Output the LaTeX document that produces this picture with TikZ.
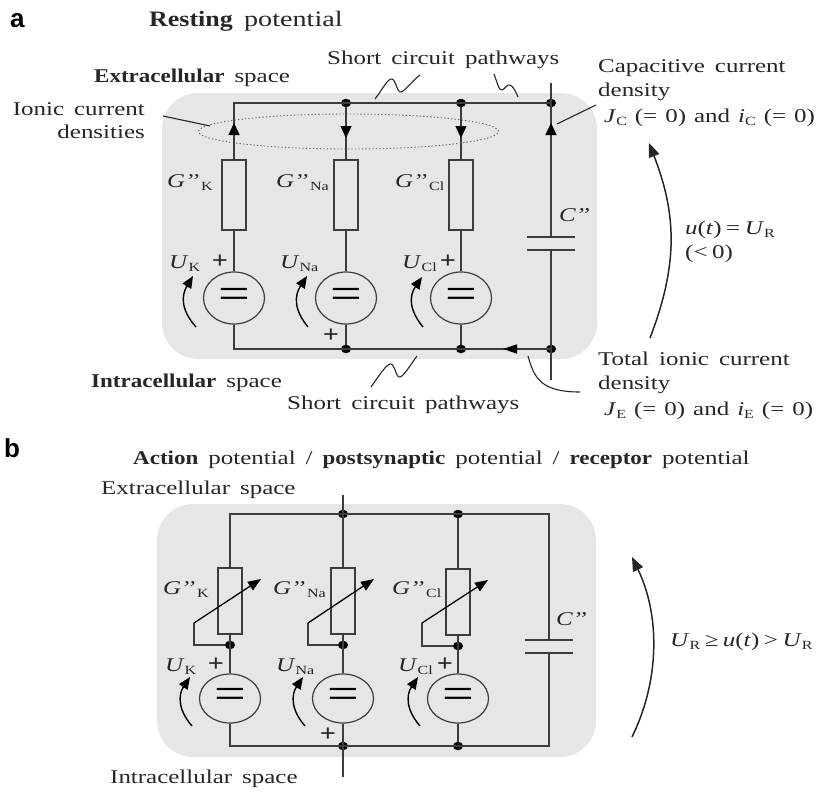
\documentclass[tikz,border=0pt]{standalone}
\usepackage{fontspec}
\setmainfont[FakeStretch=1.28,WordSpace=1.6,BoldFeatures={FakeStretch=1.18}]{Liberation Serif}
\newfontfamily\panelfont{Liberation Sans}
\usetikzlibrary{calc,positioning,arrows.meta,shapes.geometric}
\definecolor{color_panel}{HTML}{e6e6e6}
\definecolor{color_wire}{HTML}{3c3c3c}
\newcommand{\lsub}[1]{\raisebox{-3pt}{\fontsize{12.5}{12.5}\selectfont #1}}
\newcommand{\eqspace}{\spaceskip 4.5pt\relax}
\newcommand{\jspace}{\spaceskip 8pt\relax}
\tikzset{
	wire/.style={line width=1.4pt,color_wire},
	thin_line/.style={line width=1.1pt,black!85},
	resistor/.style={draw=color_wire,line width=1.3pt,fill=color_panel,rectangle,minimum width=24pt,minimum height=70pt,inner sep=0pt},
	resistor_b/.style={resistor,minimum height=66pt},
	source/.style={draw=color_wire,line width=1.2pt,fill=color_panel,ellipse,minimum width=61pt,minimum height=52pt,inner sep=0pt,font=\fontsize{44}{44}\selectfont},
	source_b/.style={source,minimum height=49pt},
	junction/.style={ellipse,fill=black,minimum width=10pt,minimum height=8.5pt,inner sep=0pt},
	label/.style={inner sep=0pt,font=\fontsize{19.5}{24.5}\selectfont,text=black!85},
	title_label/.style={inner sep=0pt,font=\fontsize{22}{24.5}\selectfont,text=black!85},
	eq_label/.style={inner sep=0pt,font=\fontsize{19.5}{24.5}\selectfont\eqspace,text=black!85},
	j_label/.style={inner sep=0pt,font=\fontsize{19.5}{24.5}\selectfont\jspace,text=black!85},
	panel_label/.style={anchor=base west,inner sep=0pt,font=\panelfont\bfseries\fontsize{26}{26}\selectfont},
	plus_sign/.style={inner sep=0pt,font=\bfseries\fontsize{24}{24}\selectfont,text=black!85},
	tip/.style={-{Triangle[length=12pt,width=11pt,black]}},
	h_tip/.style={-{Triangle[length=14pt,width=9pt,black]}},
	small_tip/.style={-{Triangle[length=12pt,width=10pt]},line width=1.4pt,black},
	big_tip/.style={-{Triangle[length=14pt,width=11pt]},line width=1.5pt,black!85},
	var_tip/.style={-{Triangle[length=13pt,width=10pt]},line width=1.3pt,black}
}
\begin{document}
\begin{tikzpicture}[x=1pt,y=-1pt]
	\useasboundingbox (0,0) rectangle (820,798);
	% Panels
	\fill[color_panel,rounded corners=36pt] (162,93) rectangle (597,359);
	\fill[color_panel,rounded corners=36pt] (157,504) rectangle (596,757);

	% Points, panel a
	\coordinate (TK) at (234,103);
	\coordinate (BK) at (234,349);
	\coordinate (TC) at (551,103);
	\coordinate (BC) at (551,349);
	\coordinate (TE) at (551,83);
	\coordinate (BE) at (551,380);
	\coordinate (CU) at (551,237);
	\coordinate (CL) at (551,250);

	\node[junction] (TNa) at (346,103) {};
	\node[junction] (TCl) at (461,103) {};
	\node[junction] (TR) at (551,103) {};
	\node[junction] (BNa) at (346,349) {};
	\node[junction] (BCl) at (461,349) {};
	\node[junction] (BR) at (551,349) {};

	\node[resistor] (RK) at (234,195) {};
	\node[resistor] (RNa) at (346,195) {};
	\node[resistor] (RCl) at (461,195) {};
	\node[source] (EK) at (234,298) {=};
	\node[source] (ENa) at (346,298) {=};
	\node[source] (ECl) at (461,298) {=};

	% Wires, panel a
	\draw[wire] (RK) -- (EK) (RNa) -- (ENa) (RCl) -- (ECl);
	\draw[wire] (RK) -- (TK) -- (TC);
	\draw[wire] (EK) -- (BK) -- (BC);
	\draw[wire] (TNa) -- (RNa) (TCl) -- (RCl);
	\draw[wire] (ENa) -- (BNa) (ECl) -- (BCl);
	\draw[wire] (TE) -- (CU) (CL) -- (BE);
	\draw[wire] ($(CU)+(-24,0)$) -- ($(CU)+(24,0)$);
	\draw[wire] ($(CL)+(-24,0)$) -- ($(CL)+(24,0)$);

	% Current arrows
	\draw[tip,wire] (234,150) -- (234,123);
	\draw[tip,wire] (346,115) -- (346,138);
	\draw[tip,wire] (461,115) -- (461,138);
	\draw[tip,wire] (551,150) -- (551,123);
	\draw[h_tip,wire] (530,349) -- (503,349);

	% Ionic current ellipse and leaders
	\draw[line width=0.9pt,black!60,dash pattern=on 1.3pt off 2.2pt] (348.5,131.5) ellipse (150pt and 17.5pt);
	\coordinate (LI) at (163,116);
	\coordinate (LIE) at (210,126);
	\draw[thin_line] (LI) -- (LIE);
	\coordinate (LC) at (596,105);
	\coordinate (LCE) at (557,124);
	\draw[thin_line] (LC) -- (LCE);
	\draw[thin_line] (528,356) .. controls (534,378) and (541,392) .. (580,392);

	% Squiggles
	\draw[thin_line] (375,99) .. controls (382,90) and (388,78) .. (392,79) .. controls (396,80) and (397,93) .. (401,92) .. controls (405,91) and (412,81) .. (420,75);
	\draw[thin_line] (494,74) .. controls (497,82) and (499,91) .. (502,90) .. controls (505,89) and (507,84) .. (510,85) .. controls (513,86) and (516,92) .. (518,97);
	\draw[thin_line] (371,387) .. controls (378,377) and (387,363) .. (391,364) .. controls (395,365) and (396,378) .. (400,377) .. controls (404,376) and (411,364) .. (417,356);

	% Large arrow, panel a
	\draw[big_tip] (650,338) .. controls (678,265) and (677,215) .. (649,143);

	% Voltage arrows, panel a
	\draw[small_tip] (196,327) .. controls (181,310) and (181,296) .. (193,276);
	\draw[small_tip] (308,327) .. controls (294,310) and (294,296) .. (307,276);
	\draw[small_tip] (423,327) .. controls (409,310) and (409,296) .. (422,277);

	% Labels, panel a
	\node[panel_label] (la) at (10,27) {a};
	\node[title_label,anchor=base west] (title_a) at (149,26.5) {\textbf{Resting} potential};
	\node[label,anchor=base west] (extra_a) at (94,82) {\textbf{Extracellular} space};
	\node[label,anchor=base west] (short_t) at (327,64) {Short circuit pathways};
	\node[label,anchor=base east] (ionic) at (145,115) {Ionic current};
	\node[label,anchor=base east] (ionic2) at (145,138) {densities};
	\node[label,anchor=base west] (cap1) at (598,72) {Capacitive current};
	\node[label,anchor=base west] (cap2) at (598,96) {density};
	\node[j_label,anchor=base west] (cap3) at (604,122) {\textit{J}\lsub{C} (= 0) and \textit{i}\lsub{C} (= 0)};
	\node[eq_label,anchor=base west] (volt1) at (685,234) {\textit{u}(\textit{t}) = \textit{U}\lsub{R}};
	\node[eq_label,anchor=base west] (volt2) at (685,258) {(< 0)};
	\node[label,anchor=base west] (total1) at (598,365) {Total ionic current};
	\node[label,anchor=base west] (total2) at (598,389) {density};
	\node[j_label,anchor=base west] (total3) at (604,415) {\textit{J}\lsub{E} (= 0) and \textit{i}\lsub{E} (= 0)};
	\node[label,anchor=base west] (intra_a) at (91,387) {\textbf{Intracellular} space};
	\node[label,anchor=base west] (short_b) at (287,409) {Short circuit pathways};
	\node[label,anchor=base west] (cc_a) at (559,221) {\textit{C’’}};
	\node[label,anchor=base west] (gk_a) at (167,187) {\textit{G’’}\hspace{2pt}\lsub{K}};
	\node[label,anchor=base west] (gna_a) at (276,187) {\textit{G’’}\hspace{2pt}\lsub{Na}};
	\node[label,anchor=base west] (gcl_a) at (395,187) {\textit{G’’}\hspace{2pt}\lsub{Cl}};
	\node[label,anchor=base west] (uk_a) at (169,268) {\textit{U}\lsub{K}};
	\node[label,anchor=base west] (una_a) at (280,268) {\textit{U}\lsub{Na}};
	\node[label,anchor=base west] (ucl_a) at (402,268) {\textit{U}\lsub{Cl}};
	\node[plus_sign] (pk_a) at (220,262) {+};
	\node[plus_sign] (pna_a) at (331,336) {+};
	\node[plus_sign] (pcl_a) at (448,262) {+};

	% Points, panel b
	\coordinate (bTK) at (230,514);
	\coordinate (bBK) at (230,746);
	\coordinate (bTC) at (549,514);
	\coordinate (bBC) at (549,746);
	\coordinate (bCU) at (549,640);
	\coordinate (bCL) at (549,653);
	\coordinate (bTE) at (343,495);
	\coordinate (bBE) at (343,777);

	\node[junction] (bTNa) at (343,514) {};
	\node[junction] (bTCl) at (458,514) {};
	\node[junction] (bBNa) at (343,746) {};
	\node[junction] (bBCl) at (458,746) {};
	\node[junction] (bNK) at (230,645) {};
	\node[junction] (bNNa) at (343,645) {};
	\node[junction] (bNCl) at (458,646) {};

	\node[resistor_b] (bRK) at (230,601) {};
	\node[resistor_b] (bRNa) at (343,601) {};
	\node[resistor_b] (bRCl) at (458,602) {};
	\node[source_b] (bEK) at (230,698.5) {=};
	\node[source_b] (bENa) at (343,698.5) {=};
	\node[source_b] (bECl) at (458,698.5) {=};

	% Wires, panel b
	\draw[wire] (bRK) -- (bTK) -- (bTC) -- (bCU);
	\draw[wire] (bEK) -- (bBK) -- (bBC) -- (bCL);
	\draw[wire] (bTE) -- (bRNa) (bENa) -- (bBE);
	\draw[wire] (bTCl) -- (bRCl) (bECl) -- (bBCl);
	\draw[wire] (bRK) -- (bEK) (bRNa) -- (bENa) (bRCl) -- (bECl);
	\draw[wire] ($(bCU)+(-24,0)$) -- ($(bCU)+(24,0)$);
	\draw[wire] ($(bCL)+(-24,0)$) -- ($(bCL)+(24,0)$);

	% Variable conductances
	\draw[wire] (bNK) -- (194,645) -- (194,623);
	\draw[wire] (bNNa) -- (308,645) -- (308,623);
	\draw[wire] (bNCl) -- (422,646) -- (422,623);
	\draw[var_tip] (194,623) -- (261,579);
	\draw[var_tip] (308,623) -- (374,579);
	\draw[var_tip] (422,623) -- (488,580);

	% Large arrow, panel b
	\draw[big_tip] (632,737) .. controls (660,680) and (660,615) .. (632,557);

	% Voltage arrows, panel b
	\draw[small_tip] (192,726) .. controls (178,710) and (178,695) .. (190,677);
	\draw[small_tip] (305,726) .. controls (291,710) and (291,695) .. (303,677);
	\draw[small_tip] (420,726) .. controls (406,710) and (406,695) .. (418,677);

	% Labels, panel b
	\node[panel_label] (lb) at (4,457) {b};
	\node[label,anchor=base west] (title_b) at (133,464) {\textbf{Action} potential / \textbf{postsynaptic} potential / \textbf{receptor} potential};
	\node[label,anchor=base west] (extra_b) at (101,494) {Extracellular space};
	\node[label,anchor=base west] (intra_b) at (110,783) {Intracellular space};
	\node[label,anchor=base west] (cc_b) at (556,625) {\textit{C’’}};
	\node[eq_label,anchor=base west] (volt_b) at (670,646) {\textit{U}\lsub{R} ≥ \textit{u}(\textit{t}) > \textit{U}\lsub{R}};
	\node[label,anchor=base west] (gk_b) at (163,594) {\textit{G’’}\hspace{2pt}\lsub{K}};
	\node[label,anchor=base west] (gna_b) at (273,594) {\textit{G’’}\hspace{2pt}\lsub{Na}};
	\node[label,anchor=base west] (gcl_b) at (392,594) {\textit{G’’}\hspace{2pt}\lsub{Cl}};
	\node[label,anchor=base west] (uk_b) at (165,671) {\textit{U}\lsub{K}};
	\node[label,anchor=base west] (una_b) at (276,671) {\textit{U}\lsub{Na}};
	\node[label,anchor=base west] (ucl_b) at (398,671) {\textit{U}\lsub{Cl}};
	\node[plus_sign] (pk_b) at (216,665) {+};
	\node[plus_sign] (pna_b) at (328,735) {+};
	\node[plus_sign] (pcl_b) at (445,665) {+};
\end{tikzpicture}
\end{document}
